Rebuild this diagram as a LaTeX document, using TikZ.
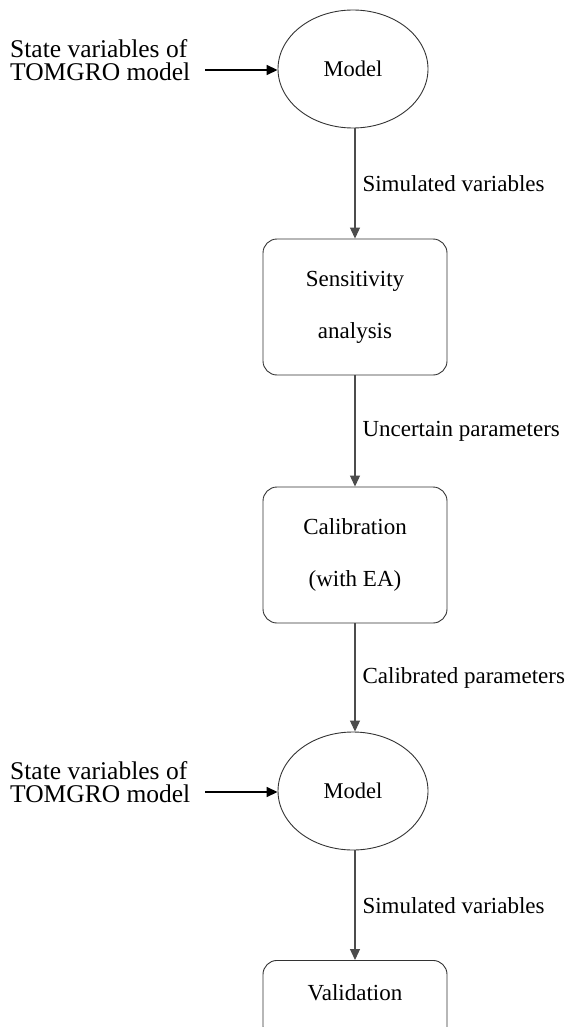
\documentclass[tikz,border=0pt]{standalone}
\usepackage{fontspec}
\setmainfont{Liberation Serif}
\usetikzlibrary{arrows.meta,shapes.geometric}
\begin{document}
\begin{tikzpicture}[x=1pt,y=-1pt,
  ell/.style={draw=black!80,line width=0.9pt,ellipse,minimum width=150pt,minimum height=118pt,inner sep=0pt,font=\fontsize{22.5}{26}\selectfont},
  rbox/.style={draw=black!80,line width=0.9pt,rounded corners=14pt,minimum width=184pt,inner sep=0pt,align=center,font=\fontsize{23}{52}\selectfont},
  flow/.style={draw=black!70,line width=1.1pt,-{Triangle[length=11pt,width=10pt]}},
  inarr/.style={draw=black,line width=1.6pt,-{Triangle[length=11pt,width=10pt]}},
  lab/.style={anchor=west,font=\fontsize{23}{26}\selectfont,inner sep=0pt},
  side/.style={align=left,anchor=west,font=\fontsize{25.5}{23}\selectfont,inner sep=0pt}]
\useasboundingbox (0,0) rectangle (568,1027);
\node[ell] (m1) at (353,69) {Model};
\node[rbox,minimum height=136pt] (sa) at (355,307) {Sensitivity\\analysis};
\node[rbox,minimum height=136pt] (cal) at (355,555) {Calibration\\(with EA)};
\node[ell] (m2) at (353,791) {Model};
\node[rbox,minimum height=80pt,anchor=north] (val) at (355,960) {};
\node[font=\fontsize{23}{26}\selectfont] (valt) at (355,993) {Validation};
\node[side] (s1) at (10,60) {State variables of\\TOMGRO model};
\node[side] (s2) at (10,782) {State variables of\\TOMGRO model};
\coordinate (s1e) at (205,70);
\coordinate (s2e) at (205,792);
\draw[inarr] (s1e) -- (m1.west |- s1e);
\draw[inarr] (s2e) -- (m2.west |- s2e);
\draw[flow] (m1.south -| sa.north) -- node[lab,xshift=7pt] {Simulated variables} (sa.north);
\draw[flow] (sa.south) -- node[lab,xshift=7pt] {Uncertain parameters} (cal.north);
\draw[flow] (cal.south) -- node[lab,xshift=7pt] {Calibrated parameters} (cal.south |- m2.north);
\draw[flow] (m2.south -| val.north) -- node[lab,xshift=7pt] {Simulated variables} (val.north);
\end{tikzpicture}
\end{document}
